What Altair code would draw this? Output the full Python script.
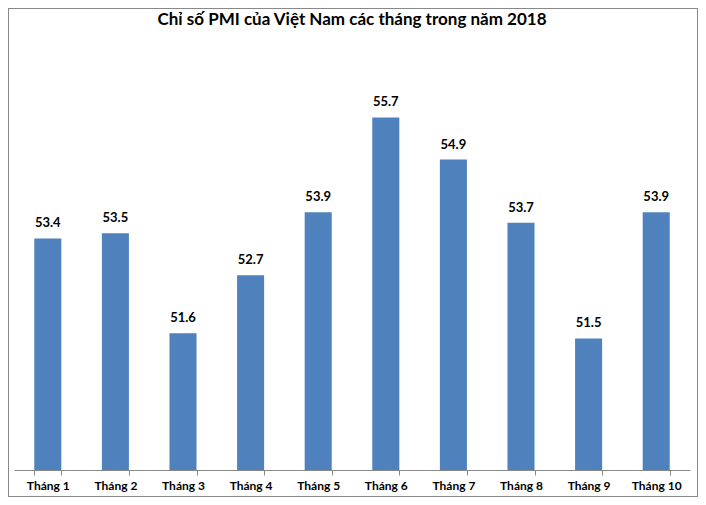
import altair as alt
import pandas as pd

months = ["Tháng 1", "Tháng 2", "Tháng 3", "Tháng 4", "Tháng 5",
          "Tháng 6", "Tháng 7", "Tháng 8", "Tháng 9", "Tháng 10"]
pmi = [53.4, 53.5, 51.6, 52.7, 53.9, 55.7, 54.9, 53.7, 51.5, 53.9]
title_text = ["Chỉ số PMI của Việt Nam các tháng trong năm 2018"]

df = pd.DataFrame({"month": months, "pmi": pmi})
tdf = pd.DataFrame({"t": title_text})
FONT = "Lato"

x = alt.X("month:N", sort=months, title=None,
          scale=alt.Scale(paddingInner=0.6, paddingOuter=0.3),
          axis=alt.Axis(labelAngle=0, tickBand="extent", tickSize=5,
                        labelPadding=5, labelFont=FONT, labelFontSize=12,
                        labelFontWeight="bold", labelColor="black",
                        domainColor="#888888", tickColor="#888888"))
y = alt.Y("pmi:Q", title=None,
          scale=alt.Scale(domain=[49, 57], zero=False, nice=False),
          axis=None)

base = alt.Chart(df)
bars = base.mark_bar(color="#4F81BD").encode(x=x, y=y, y2=alt.datum(49))
labels = base.mark_text(dy=-8, baseline="bottom", font=FONT, fontSize=13,
                        fontWeight="bold", color="black").encode(
    x=x, y=y, text=alt.Text("pmi:Q", format=".1f"))
border = alt.Chart(df).mark_rect(fill=None, stroke="#888888", strokeWidth=1).encode(
    x=alt.value(-5.5), x2=alt.value(683.5), y=alt.value(-40.5), y2=alt.value(447.5))
title = alt.Chart(tdf).mark_text(font=FONT, fontSize=17, fontWeight="bold",
                                 color="black", align="center",
                                 baseline="middle").encode(
    text="t:N", x=alt.value(338), y=alt.value(-29))

chart = alt.layer(bars, labels, border, title).properties(
    width=676, height=421,
    autosize=alt.AutoSizeParams(type="none"),
    padding={"left": 6, "top": 41, "right": 8, "bottom": 27},
).configure(background="white").configure_view(stroke=None)

chart.save("out.html", embed_options={"renderer": "svg", "actions": False})
